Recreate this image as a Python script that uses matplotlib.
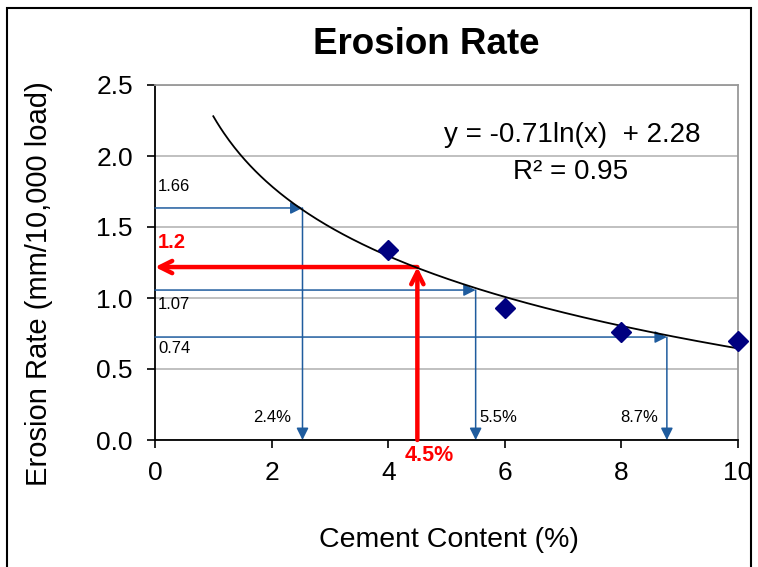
import numpy as np
import matplotlib
matplotlib.use("Agg")
import matplotlib.pyplot as plt
from matplotlib.patches import Rectangle

plt.rcParams['font.family'] = ['Liberation Sans', 'DejaVu Sans']

# Data
cement = [4, 6, 8, 10]
erosion = [1.34, 0.93, 0.76, 0.70]
fit_a, fit_b = -0.71, 2.28
fit_x = np.linspace(1.0, 10.0, 300)

# guide lines (blue): y value, x value, y label, x label
guide_y = [1.634, 1.056, 0.725]
guide_x = [2.53, 5.5, 8.78]
guide_ylabels = ['1.66', '1.07', '0.74']
guide_xlabels = ['2.4%', '5.5%', '8.7%']
red_x, red_y = 4.5, 1.218
red_xlabel, red_ylabel = '4.5%', '1.2'

W, H = 758, 567
fig = plt.figure(figsize=(W/100, H/100), dpi=100)
ax = fig.add_axes([155/W, 1-440/H, (738-155)/W, (440-85)/H])

# figure border
fig.patches.append(Rectangle((7/W, -0.01), (751-7)/W, 1-8/H+0.01,
                             transform=fig.transFigure, fill=False,
                             edgecolor='black', linewidth=1.5))

ax.set_xlim(0, 10)
ax.set_ylim(0, 2.5)
ax.set_xticks([0, 2, 4, 6, 8, 10])
ax.set_yticks([0, 0.5, 1.0, 1.5, 2.0, 2.5])
ax.set_yticklabels(['0.0', '0.5', '1.0', '1.5', '2.0', '2.5'])
ax.tick_params(labelsize=19, length=6, width=1.2, direction='out')
ax.tick_params(axis='x', pad=9)
ax.tick_params(axis='y', pad=10)
ax.yaxis.grid(True, color='#bbbbbb', linewidth=1.3)
ax.set_axisbelow(True)
for s in ['top', 'right']:
    ax.spines[s].set_color('#999999')
    ax.spines[s].set_linewidth(1.3)
for s in ['left', 'bottom']:
    ax.spines[s].set_color('black')
    ax.spines[s].set_linewidth(1.3)

blue = '#1f5c9e'
for gy, gx in zip(guide_y, guide_x):
    ax.annotate('', xy=(gx, gy), xytext=(0, gy),
                arrowprops=dict(arrowstyle='-|>', color=blue, lw=1.1,
                                mutation_scale=18, shrinkA=0, shrinkB=0))
    ax.annotate('', xy=(gx, 0), xytext=(gx, gy),
                arrowprops=dict(arrowstyle='-|>', color=blue, lw=1.1,
                                mutation_scale=18, shrinkA=0, shrinkB=0))

# labels for guides
fs_small = 12
ax.text(0.05, guide_y[0] + 0.15, guide_ylabels[0], fontsize=fs_small, va='center', ha='left')
ax.text(0.05, guide_y[1] - 0.1, guide_ylabels[1], fontsize=fs_small, va='center', ha='left')
ax.text(0.05, guide_y[2] - 0.08, guide_ylabels[2], fontsize=fs_small, va='center', ha='left')
ax.text(guide_x[0] - 0.2, 0.155, guide_xlabels[0], fontsize=fs_small, va='center', ha='right')
ax.text(guide_x[1] + 0.07, 0.155, guide_xlabels[1], fontsize=fs_small, va='center', ha='left')
ax.text(guide_x[2] - 0.15, 0.155, guide_xlabels[2], fontsize=fs_small, va='center', ha='right')

# red arrows
ax.annotate('', xy=(0, red_y), xytext=(red_x, red_y),
            arrowprops=dict(arrowstyle='->', color='red', lw=3.2,
                            mutation_scale=22, shrinkA=0, shrinkB=0))
ax.annotate('', xy=(red_x, red_y), xytext=(red_x, 0),
            arrowprops=dict(arrowstyle='->', color='red', lw=3.2,
                            mutation_scale=22, shrinkA=0, shrinkB=0))
ax.text(0.05, red_y + 0.17, red_ylabel, fontsize=14.5, color='red',
        fontweight='bold', va='center', ha='left')
ax.text(red_x + 0.2, -0.11, red_xlabel, fontsize=15.5, color='red',
        fontweight='bold', va='center', ha='center', clip_on=False)

# fit curve and points
ax.plot(fit_x, fit_a*np.log(fit_x) + fit_b, color='black', lw=1.3, zorder=4)
ax.plot(cement, erosion, linestyle='none', marker='D', markersize=10,
        color='#000080', zorder=5, clip_on=False)

ax.text(0.715, 0.859, 'y = -0.71ln(x)  + 2.28', transform=ax.transAxes,
        fontsize=20, ha='center', va='center')
ax.text(0.713, 0.755, 'R² = 0.95', transform=ax.transAxes,
        fontsize=20, ha='center', va='center')

fig.text(426/W, 1-45/H, 'Erosion Rate', fontsize=26.5,
         fontweight='bold', ha='center', va='center')
fig.text(449/W, 1-540/H, 'Cement Content (%)', fontsize=20.5,
         ha='center', va='center')
fig.text(39/W, 1-284/H, 'Erosion Rate (mm/10,000 load)', fontsize=21,
         rotation=90, ha='center', va='center')

fig.savefig('out.png', dpi=100)
